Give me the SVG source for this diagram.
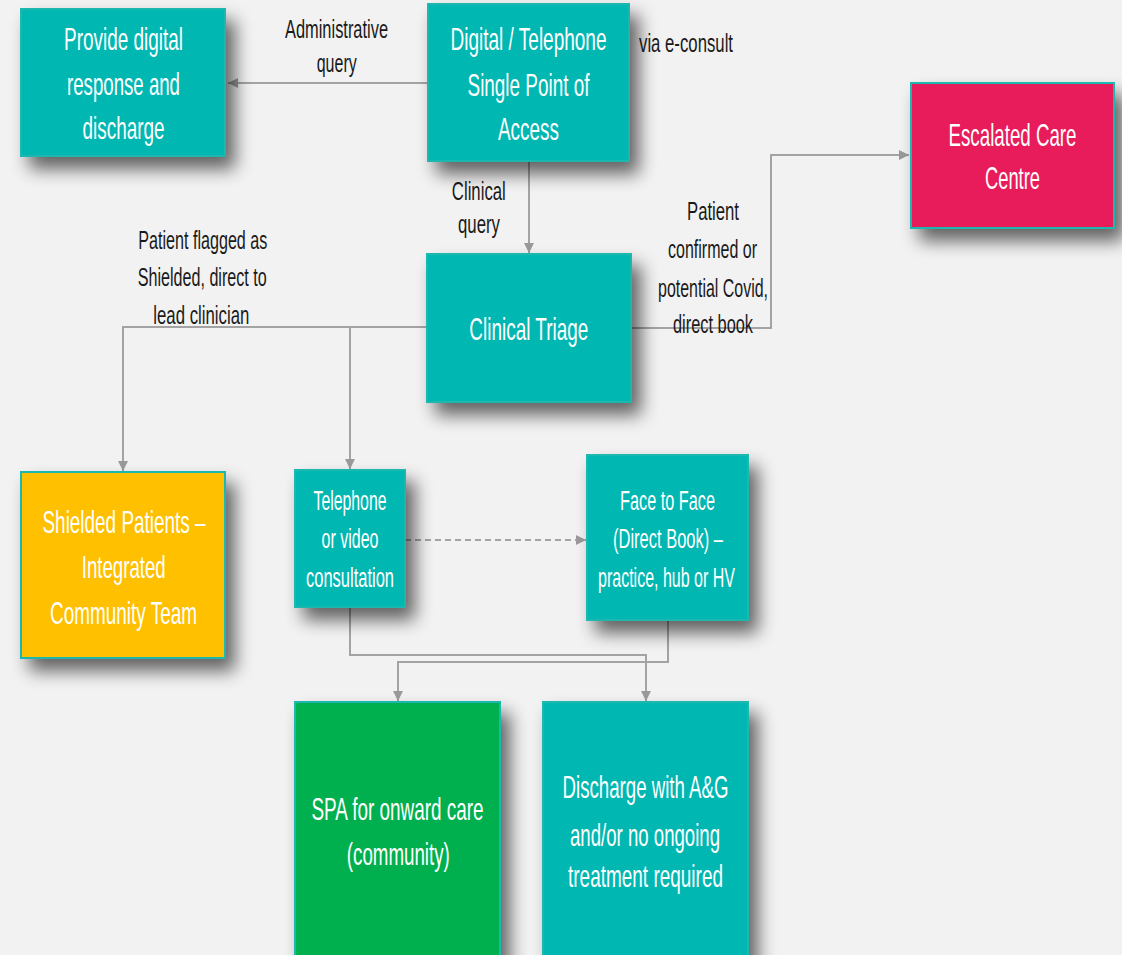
<svg xmlns="http://www.w3.org/2000/svg" width="1122" height="955" viewBox="0 0 1122 955">
  <defs>
    <filter id="drop" x="-30%" y="-30%" width="170%" height="170%">
      <feGaussianBlur in="SourceAlpha" stdDeviation="9"/>
      <feOffset dx="9" dy="12" result="blur"/>
      <feComponentTransfer>
        <feFuncA type="linear" slope="0.6"/>
      </feComponentTransfer>
      <feMerge>
        <feMergeNode/>
        <feMergeNode in="SourceGraphic"/>
      </feMerge>
    </filter>
    <marker id="arrow" markerUnits="userSpaceOnUse" markerWidth="10" markerHeight="10" refX="10" refY="5" orient="auto">
      <path d="M0,0 L10,5 L0,10 z" fill="#999999"/>
    </marker>
    <style>
      .box { stroke: #1ab8b0; stroke-width: 2; filter: url(#drop); }
      .teal { fill: #00b7b2; }
      .pink { fill: #e81c5a; }
      .yellow { fill: #ffc000; }
      .green { fill: #00b050; }
      /* narrow lettering: glyphs squeezed to 60% width */
      .t { font-family: "Liberation Sans", Arial, sans-serif; fill: #ffffff; text-anchor: middle; font-size: 32px; }
      .ts { font-size: 28px; }
      .lbl { font-family: "Liberation Sans", Arial, sans-serif; fill: #1a1a1a; text-anchor: middle; font-size: 26px; }
      .wire { fill: none; stroke: #a3a3a3; stroke-width: 2; }
      .dash { stroke-dasharray: 6 4; }
    </style>
  </defs>

  <rect x="0" y="0" width="1122" height="955" fill="#f2f2f2"/>

  <!-- connectors -->
  <g id="connectors">
    <path class="wire" d="M428,83 H228" marker-end="url(#arrow)"/>
    <path class="wire" d="M529,162 V253" marker-end="url(#arrow)"/>
    <path class="wire" d="M631,328 H771 V155 H909" marker-end="url(#arrow)"/>
    <path class="wire" d="M427,327 H123 V471" marker-end="url(#arrow)"/>
    <path class="wire" d="M350,327 V469" marker-end="url(#arrow)"/>
    <path class="wire dash" d="M405,540 H586" marker-end="url(#arrow)"/>
    <path class="wire" d="M350,607 V655 H646 V701" marker-end="url(#arrow)"/>
    <path class="wire" d="M668,620 V662 H398 V701" marker-end="url(#arrow)"/>
  </g>

  <!-- connector labels -->
  <g id="labels">
    <text class="lbl" transform="translate(336.5 38) scale(0.6 1)" textLength="171.7" lengthAdjust="spacingAndGlyphs">Administrative</text>
    <text class="lbl" transform="translate(336.7 72) scale(0.6 1)" textLength="66.7" lengthAdjust="spacingAndGlyphs">query</text>
    <text class="lbl" transform="translate(686 52) scale(0.6 1)" textLength="156.7" lengthAdjust="spacingAndGlyphs">via e-consult</text>
    <text class="lbl" transform="translate(478.8 200) scale(0.6 1)" textLength="90" lengthAdjust="spacingAndGlyphs">Clinical</text>
    <text class="lbl" transform="translate(479 233) scale(0.6 1)" textLength="70" lengthAdjust="spacingAndGlyphs">query</text>
    <text class="lbl" transform="translate(713 220) scale(0.6 1)" textLength="86.7" lengthAdjust="spacingAndGlyphs">Patient</text>
    <text class="lbl" transform="translate(712.5 258) scale(0.6 1)" textLength="148.3" lengthAdjust="spacingAndGlyphs">confirmed or</text>
    <text class="lbl" transform="translate(713 297) scale(0.6 1)" textLength="183.3" lengthAdjust="spacingAndGlyphs">potential Covid,</text>
    <text class="lbl" transform="translate(713 333) scale(0.6 1)" textLength="133.3" lengthAdjust="spacingAndGlyphs">direct book</text>
    <text class="lbl" transform="translate(202.8 249) scale(0.6 1)" textLength="215" lengthAdjust="spacingAndGlyphs">Patient flagged as</text>
    <text class="lbl" transform="translate(202.2 286) scale(0.6 1)" textLength="215" lengthAdjust="spacingAndGlyphs">Shielded, direct to</text>
    <text class="lbl" transform="translate(201.3 324) scale(0.6 1)" textLength="160" lengthAdjust="spacingAndGlyphs">lead clinician</text>
  </g>

  <g id="node-digital-response">
    <rect class="box teal" x="21" y="9" width="204" height="147"/>
    <text class="t" transform="translate(123.5 50) scale(0.6 1)" textLength="198.3" lengthAdjust="spacingAndGlyphs">Provide digital</text>
    <text class="t" transform="translate(123.5 95) scale(0.6 1)" textLength="188.3" lengthAdjust="spacingAndGlyphs">response and</text>
    <text class="t" transform="translate(123.5 139) scale(0.6 1)" textLength="136.7" lengthAdjust="spacingAndGlyphs">discharge</text>
  </g>

  <g id="node-single-point">
    <rect class="box teal" x="428" y="4" width="201" height="157"/>
    <text class="t" transform="translate(528.5 50) scale(0.6 1)" textLength="260" lengthAdjust="spacingAndGlyphs">Digital / Telephone</text>
    <text class="t" transform="translate(528.5 96) scale(0.6 1)" textLength="203.3" lengthAdjust="spacingAndGlyphs">Single Point of</text>
    <text class="t" transform="translate(528.5 140) scale(0.6 1)" textLength="101.7" lengthAdjust="spacingAndGlyphs">Access</text>
  </g>

  <g id="node-escalated">
    <rect class="box pink" x="911" y="83" width="203" height="145"/>
    <text class="t" transform="translate(1012.5 146) scale(0.6 1)" textLength="213.3" lengthAdjust="spacingAndGlyphs">Escalated Care</text>
    <text class="t" transform="translate(1012.5 189) scale(0.6 1)" textLength="91.7" lengthAdjust="spacingAndGlyphs">Centre</text>
  </g>

  <g id="node-triage">
    <rect class="box teal" x="427" y="254" width="204" height="148"/>
    <text class="t" transform="translate(528.8 340) scale(0.6 1)" textLength="198.3" lengthAdjust="spacingAndGlyphs">Clinical Triage</text>
  </g>

  <g id="node-shielded">
    <rect class="box yellow" x="21" y="472" width="204" height="186"/>
    <text class="t" transform="translate(124 533) scale(0.6 1)" textLength="271.7" lengthAdjust="spacingAndGlyphs">Shielded Patients –</text>
    <text class="t" transform="translate(123.7 578) scale(0.6 1)" textLength="140" lengthAdjust="spacingAndGlyphs">Integrated</text>
    <text class="t" transform="translate(123.5 624) scale(0.6 1)" textLength="245" lengthAdjust="spacingAndGlyphs">Community Team</text>
  </g>

  <g id="node-telephone">
    <rect class="box teal" x="295" y="470" width="110" height="137"/>
    <text class="t ts" transform="translate(350 510) scale(0.6 1)" textLength="121.7" lengthAdjust="spacingAndGlyphs">Telephone</text>
    <text class="t ts" transform="translate(350 548) scale(0.6 1)" textLength="95" lengthAdjust="spacingAndGlyphs">or video</text>
    <text class="t ts" transform="translate(350 587) scale(0.6 1)" textLength="146.7" lengthAdjust="spacingAndGlyphs">consultation</text>
  </g>

  <g id="node-face-to-face">
    <rect class="box teal" x="587" y="455" width="161" height="165"/>
    <text class="t ts" transform="translate(667.5 510) scale(0.6 1)" textLength="158.3" lengthAdjust="spacingAndGlyphs">Face to Face</text>
    <text class="t ts" transform="translate(668 548) scale(0.6 1)" textLength="183.3" lengthAdjust="spacingAndGlyphs">(Direct Book) –</text>
    <text class="t ts" transform="translate(666.5 587) scale(0.6 1)" textLength="228.3" lengthAdjust="spacingAndGlyphs">practice, hub or HV</text>
  </g>

  <g id="node-spa-onward">
    <rect class="box green" x="295" y="702" width="205" height="270"/>
    <text class="t" transform="translate(397.5 820) scale(0.6 1)" textLength="286.7" lengthAdjust="spacingAndGlyphs">SPA for onward care</text>
    <text class="t" transform="translate(398.3 865) scale(0.6 1)" textLength="171.7" lengthAdjust="spacingAndGlyphs">(community)</text>
  </g>

  <g id="node-discharge">
    <rect class="box teal" x="543" y="702" width="205" height="270"/>
    <text class="t" transform="translate(645.5 798) scale(0.6 1)" textLength="276.7" lengthAdjust="spacingAndGlyphs">Discharge with A&amp;G</text>
    <text class="t" transform="translate(645 846) scale(0.6 1)" textLength="250" lengthAdjust="spacingAndGlyphs">and/or no ongoing</text>
    <text class="t" transform="translate(645.5 887) scale(0.6 1)" textLength="258.3" lengthAdjust="spacingAndGlyphs">treatment required</text>
  </g>
</svg>
